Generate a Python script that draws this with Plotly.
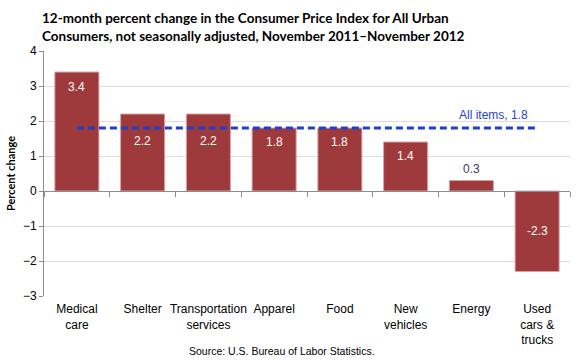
import plotly.graph_objects as go

categories = ["Medical<br>care", "Shelter", "Transportation<br>services", "Apparel",
              "Food", "New<br>vehicles", "Energy", "Used<br>cars &amp;<br>trucks"]
values = [3.4, 2.2, 2.2, 1.8, 1.8, 1.4, 0.3, -2.3]
all_items = 1.8

FONT = "Liberation Sans"
TFONT = "Lato"

fig = go.Figure()
fig.add_trace(go.Bar(
    x=categories, y=values, width=0.67,
    marker=dict(color="#9E3A3B", line=dict(color="#D9A3A3", width=1)),
    showlegend=False, hoverinfo="skip",
))
fig.add_trace(go.Scatter(
    x=[categories[0], categories[-1]], y=[all_items, all_items],
    mode="lines", xaxis="x2",
    line=dict(color="#1F3FD0", width=3, dash="7px,4px"),
    showlegend=False, hoverinfo="skip",
))

# value labels (style: pixel offsets from bar end, like the hand-placed Excel labels)
label_offsets = [-15, -27, -27, -14, -14, -14, 12, 0]
for i, (c, v) in enumerate(zip(categories, values)):
    outside = label_offsets[i] > 0
    fig.add_annotation(
        x=c, y=(v if v > 0 else v / 2), xref="x", yref="y", yanchor="middle",
        yshift=label_offsets[i], text=f"{v:.1f}", showarrow=False,
        font=dict(color="#4a3a4a" if outside else "white", size=12, family=FONT),
    )

fig.add_annotation(x=6.33, y=2.17, xref="x", yref="y", text=f"All items, {all_items}",
                   showarrow=False, font=dict(color="#2B3FD6", size=12, family=FONT))
fig.add_annotation(x=0.4525, y=-0.224, xref="paper", yref="paper", yanchor="middle",
                   text="Source: U.S. Bureau of Labor Statistics.", showarrow=False,
                   font=dict(color="#000", size=10.5, family=FONT))
fig.add_annotation(
    x=-4/526, y=1 + 43/245, xref="paper", yref="paper", xanchor="left", yanchor="top",
    align="left", showarrow=False,
    text="12-month percent change in the Consumer Price Index for All Urban<br>Consumers, not seasonally adjusted, November 2011\u2013November 2012",
    font=dict(family=TFONT, size=13.5, color="#000", weight="bold"),
)

fig.update_layout(
    width=580, height=360,
    margin=dict(l=44, r=10, t=51, b=64),
    paper_bgcolor="white", plot_bgcolor="white",
    bargap=0.33,
    xaxis=dict(
        categoryorder="array", categoryarray=categories, automargin=False,
        showline=False, ticks="", showgrid=False, zeroline=False,
        ticklabelstandoff=4,
        tickfont=dict(family=FONT, size=12, color="#000"),
    ),
    xaxis2=dict(
        matches="x", overlaying="x", anchor="free", position=3/7,
        showline=True, linecolor="#8c8c8c", linewidth=1,
        ticks="outside", tickson="boundaries", ticklen=5, tickcolor="#8c8c8c",
        showticklabels=False, showgrid=False, zeroline=False,
        categoryorder="array", categoryarray=categories,
    ),
    yaxis=dict(
        range=[-3, 4], dtick=1, showgrid=True, gridcolor="#dcdcdc", automargin=False,
        zeroline=False, showline=True, linecolor="#8c8c8c", ticks="outside",
        ticklen=4, tickcolor="#8c8c8c",
        tickfont=dict(family=FONT, size=12, color="#000"),
        title=dict(text="Percent change", standoff=5,
                   font=dict(family=TFONT, size=11, color="#000", weight="bold")),
    ),
)

fig.write_html("out.html", post_script="document.body.style.margin='0';",
               config={"displayModeBar": False})
